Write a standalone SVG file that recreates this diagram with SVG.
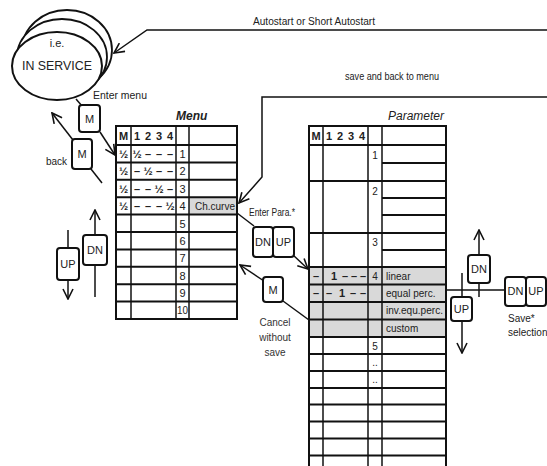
<svg xmlns="http://www.w3.org/2000/svg" width="547" height="466" viewBox="0 0 547 466">
<style>
text{font-family:"Liberation Sans",Arial,sans-serif;fill:#222;}
.t{font-size:10px;}
.tb{font-size:11px;font-weight:bold;fill:#111;}
.ti{font-size:12px;font-style:italic;font-weight:bold;fill:#222;}
.hl{stroke:#111;stroke-width:2;fill:none;}
.vl{stroke:#111;stroke-width:1.5;fill:none;}
.gray{fill:#d9d9d9;stroke:none;}
.btn{fill:#fff;stroke:#111;stroke-width:2;}
.con{stroke:#111;stroke-width:1.5;fill:none;}
.bt{font-size:11px;text-anchor:middle;fill:#222;}
.ct{font-size:10px;text-anchor:middle;fill:#333;}
</style>
<defs>
<marker id="ah" viewBox="0 0 12 12" refX="11" refY="6" markerWidth="12" markerHeight="12" markerUnits="userSpaceOnUse" orient="auto">
<path d="M1,1 L11,6 L1,11" fill="none" stroke="#111" stroke-width="1.6"/>
</marker>
</defs>
<rect width="547" height="466" fill="#fff"/>

<g id="in-service">
<ellipse cx="67" cy="50" rx="45" ry="40" fill="#fff" stroke="#111" stroke-width="1.8"/>
<ellipse cx="62" cy="57" rx="45" ry="38" fill="#fff" stroke="#111" stroke-width="1.8"/>
<ellipse cx="57" cy="66" rx="45" ry="34" fill="#fff" stroke="#111" stroke-width="2"/>
<text x="57" y="47" font-size="11" text-anchor="middle">i.e.</text>
<text x="57" y="70" font-size="12" text-anchor="middle" textLength="70" lengthAdjust="spacingAndGlyphs">IN SERVICE</text>
</g>

<g id="connectors">
<polyline class="con" points="547,30 147,30 114,53" marker-end="url(#ah)"/>
<text x="253" y="25" class="t" textLength="122" lengthAdjust="spacingAndGlyphs">Autostart or Short Autostart</text>
<polyline class="con" points="547,97 262,97 262,177 239,203" marker-end="url(#ah)"/>
<text x="345" y="80" class="t" textLength="94" lengthAdjust="spacingAndGlyphs">save and back to menu</text>
<line class="con" x1="76" y1="99" x2="82" y2="106"/>
<line class="con" x1="100" y1="132" x2="115" y2="155" marker-end="url(#ah)"/>
<text x="93" y="99" class="t" textLength="54" lengthAdjust="spacingAndGlyphs">Enter menu</text>
<line class="con" x1="73" y1="140" x2="52" y2="113" marker-end="url(#ah)"/>
<line class="con" x1="91" y1="169" x2="102" y2="183"/>
<text x="46" y="165" class="t">back</text>
<line class="con" x1="95" y1="297" x2="95" y2="210" marker-end="url(#ah)"/>
<line class="con" x1="68" y1="230" x2="68" y2="299" marker-end="url(#ah)"/>
<line class="con" x1="237" y1="213" x2="254" y2="226"/>
<line class="con" x1="293" y1="255" x2="308" y2="269" marker-end="url(#ah)"/>
<text x="249" y="216" class="t" textLength="46" lengthAdjust="spacingAndGlyphs">Enter Para.*</text>
<line class="con" x1="264" y1="281" x2="240" y2="265" marker-end="url(#ah)"/>
<line class="con" x1="283" y1="301" x2="309" y2="320"/>
<text x="275" y="326" class="ct">Cancel</text>
<text x="275" y="341" class="ct">without</text>
<text x="275" y="356" class="ct">save</text>
<line class="con" x1="446" y1="290" x2="506" y2="290"/>
<line class="con" x1="479" y1="297" x2="479" y2="230" marker-end="url(#ah)"/>
<line class="con" x1="462" y1="273" x2="462" y2="353" marker-end="url(#ah)"/>
<text x="508" y="322" class="t">Save*</text>
<text x="508" y="336" class="t">selection</text>
</g>

<g id="btn-enter-menu"><rect class="btn" x="79" y="105" width="21" height="27" rx="3"/><text x="89.5" y="123" class="bt">M</text></g>
<g id="btn-back"><rect class="btn" x="72" y="139" width="20" height="30" rx="3"/><text x="82" y="158" class="bt">M</text></g>
<g id="btn-left-dn"><rect class="btn" x="83" y="235" width="24" height="30" rx="3"/><text x="95" y="254" class="bt">DN</text></g>
<g id="btn-left-up"><rect class="btn" x="57" y="248" width="22" height="32" rx="3"/><text x="68" y="268" class="bt">UP</text></g>
<g id="btn-enter-para"><rect class="btn" x="253" y="227" width="20" height="30" rx="3"/><rect class="btn" x="273" y="227" width="21" height="30" rx="3"/><text x="263" y="246" class="bt">DN</text><text x="283.5" y="246" class="bt">UP</text></g>
<g id="btn-cancel"><rect class="btn" x="263" y="277" width="20" height="25" rx="3"/><text x="273" y="294" class="bt">M</text></g>
<g id="btn-right-dn"><rect class="btn" x="468" y="255" width="22" height="28" rx="3"/><text x="479" y="273" class="bt">DN</text></g>
<g id="btn-right-up"><rect class="btn" x="451" y="297" width="21" height="24" rx="3"/><text x="461.5" y="313" class="bt">UP</text></g>
<g id="btn-save"><rect class="btn" x="505" y="277" width="21" height="29" rx="3"/><rect class="btn" x="526" y="277" width="20" height="29" rx="3"/><text x="515.5" y="295" class="bt">DN</text><text x="536" y="295" class="bt">UP</text></g>

<g id="menu-table">
<text x="176" y="120" class="ti">Menu</text>
<rect class="gray" x="189" y="197" width="48" height="17"/>
<rect x="116" y="126" width="121" height="193" class="hl"/>
<g class="hl">
<line x1="116" y1="145" x2="237" y2="145"/>
<line x1="116" y1="162.4" x2="237" y2="162.4"/>
<line x1="116" y1="179.8" x2="237" y2="179.8"/>
<line x1="116" y1="197.2" x2="237" y2="197.2"/>
<line x1="116" y1="214.6" x2="237" y2="214.6"/>
<line x1="116" y1="232" x2="237" y2="232"/>
<line x1="116" y1="249.4" x2="237" y2="249.4"/>
<line x1="116" y1="266.8" x2="237" y2="266.8"/>
<line x1="116" y1="284.2" x2="237" y2="284.2"/>
<line x1="116" y1="301.6" x2="237" y2="301.6"/>
</g>
<g class="vl">
<line x1="131" y1="126" x2="131" y2="319"/>
<line x1="176" y1="126" x2="176" y2="319"/>
<line x1="189" y1="126" x2="189" y2="319"/>
</g>
<g class="tb" text-anchor="middle">
<text x="123.5" y="140">M</text>
<text x="137" y="140">1</text><text x="148" y="140">2</text><text x="159" y="140">3</text><text x="170" y="140">4</text>
<text x="123.5" y="158">½</text><text x="137" y="158">½</text><text x="148" y="158">–</text><text x="159" y="158">–</text><text x="170" y="158">–</text>
<text x="123.5" y="175">½</text><text x="137" y="175">–</text><text x="148" y="175">½</text><text x="159" y="175">–</text><text x="170" y="175">–</text>
<text x="123.5" y="193">½</text><text x="137" y="193">–</text><text x="148" y="193">–</text><text x="159" y="193">½</text><text x="170" y="193">–</text>
<text x="123.5" y="210">½</text><text x="137" y="210">–</text><text x="148" y="210">–</text><text x="159" y="210">–</text><text x="170" y="210">½</text>
</g>
<g text-anchor="middle" style="font-size:11px">
<text x="182.5" y="158">1</text><text x="182.5" y="175">2</text><text x="182.5" y="193">3</text><text x="182.5" y="210">4</text>
<text x="182.5" y="228">5</text><text x="182.5" y="245">6</text><text x="182.5" y="262">7</text><text x="182.5" y="280">8</text>
<text x="182.5" y="297">9</text><text x="182.5" y="314" textLength="11" lengthAdjust="spacingAndGlyphs">10</text>
</g>
<text x="195" y="210" class="t">Ch.curve</text>
</g>

<g id="parameter-table">
<text x="388" y="120" class="ti" style="font-weight:normal">Parameter</text>
<rect class="gray" x="309" y="267" width="137" height="70"/>
<g class="hl">
<line x1="309" y1="126" x2="446" y2="126"/>
<line x1="309" y1="145" x2="446" y2="145"/>
<line x1="309" y1="181" x2="446" y2="181"/>
<line x1="309" y1="233" x2="446" y2="233"/>
<line x1="309" y1="267" x2="446" y2="267"/>
<line x1="309" y1="284.5" x2="446" y2="284.5"/>
<line x1="309" y1="302" x2="446" y2="302"/>
<line x1="309" y1="319.5" x2="446" y2="319.5"/>
<line x1="309" y1="337" x2="446" y2="337"/>
<line x1="309" y1="354" x2="446" y2="354"/>
<line x1="309" y1="371" x2="446" y2="371"/>
<line x1="309" y1="388" x2="446" y2="388"/>
<line x1="309" y1="404.5" x2="446" y2="404.5"/>
<line x1="309" y1="421.5" x2="446" y2="421.5"/>
<line x1="309" y1="438.5" x2="446" y2="438.5"/>
<line x1="309" y1="455.5" x2="446" y2="455.5"/>
<line x1="382" y1="163" x2="446" y2="163"/>
<line x1="382" y1="198" x2="446" y2="198"/>
<line x1="382" y1="215" x2="446" y2="215"/>
<line x1="382" y1="250" x2="446" y2="250"/>
</g>
<g class="vl">
<line x1="309" y1="125" x2="309" y2="466" style="stroke-width:2"/>
<line x1="323" y1="126" x2="323" y2="466"/>
<line x1="368" y1="126" x2="368" y2="466"/>
<line x1="382" y1="126" x2="382" y2="466"/>
<line x1="446" y1="125" x2="446" y2="466" style="stroke-width:2"/>
</g>
<g class="tb" text-anchor="middle">
<text x="316" y="140">M</text>
<text x="329" y="140">1</text><text x="340" y="140">2</text><text x="351" y="140">3</text><text x="362" y="140">4</text>
<text x="316" y="280">–</text><text x="334" y="280">1</text><text x="345" y="280">–</text><text x="354" y="280">–</text><text x="363" y="280">–</text>
<text x="316" y="297">–</text><text x="329" y="297">–</text><text x="342" y="297">1</text><text x="353" y="297">–</text><text x="363" y="297">–</text>
</g>
<g class="t" text-anchor="middle">
<text x="375" y="159">1</text><text x="375" y="195">2</text><text x="375" y="246">3</text>
<text x="375" y="280">4</text><text x="375" y="350">5</text>
<text x="375" y="366">..</text><text x="375" y="383">..</text>
</g>
<g class="t">
<text x="386" y="280">linear</text>
<text x="386" y="297">equal perc.</text>
<text x="386" y="314" textLength="57" lengthAdjust="spacingAndGlyphs">inv.equ.perc.</text>
<text x="386" y="332">custom</text>
</g>
</g>
</svg>
